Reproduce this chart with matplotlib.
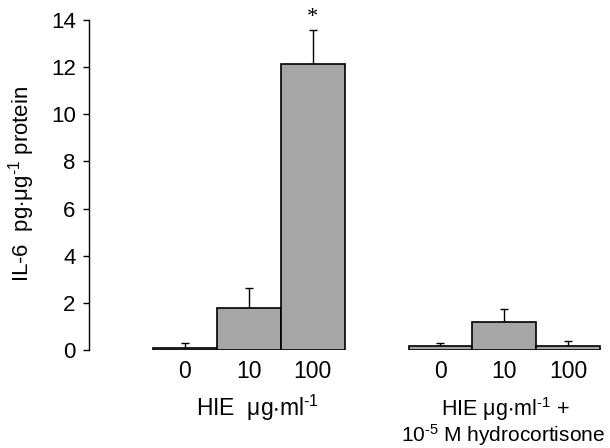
import numpy as np
import matplotlib
matplotlib.use('Agg')
import matplotlib.pyplot as plt

plt.rcParams['font.family'] = ['Liberation Sans', 'DejaVu Sans']
plt.rcParams['mathtext.fontset'] = 'custom'
plt.rcParams['mathtext.rm'] = 'Liberation Sans'

# ── Data ─────────────────────────────────────────────────────────────────────
doses   = ['0', '10', '100']
hie     = [0.10, 1.77, 12.12]     # IL-6, HIE alone
hie_err = [0.18, 0.87, 1.45]
hc      = [0.16, 1.17, 0.17]      # IL-6, HIE + hydrocortisone
hc_err  = [0.15, 0.57, 0.23]

pos1 = np.arange(3)
pos2 = np.arange(3) + 4

HY = '\u00ad'  # short hyphen for superscripts (mathtext turns '-' into a minus)

# ── Figure ───────────────────────────────────────────────────────────────────
fig = plt.figure(figsize=(6.1, 4.48), dpi=100)
ax = fig.add_axes([89.3/610, 98/448, 1 - 89.3/610, 330/448])

bar_kw = dict(width=1.0, color='#a6a6a6', edgecolor='black', linewidth=1.2, zorder=2)
ax.bar(pos1, hie, **bar_kw)
ax.bar(pos2, hc, **bar_kw)
err_kw = dict(fmt='none', ecolor='black', elinewidth=1.0, capsize=2.7, capthick=1.0, zorder=1)
ax.errorbar(pos1, hie, yerr=[np.zeros(3), hie_err], **err_kw)
ax.errorbar(pos2, hc, yerr=[np.zeros(3), hc_err], **err_kw)

ax.text(pos1[2], hie[2] + hie_err[2] + 0.15, '*', ha='center', va='bottom',
        fontsize=16, family='Liberation Serif', clip_on=False)

ax.set_xlim(-1.49, 6.65)
ax.set_ylim(0, 14)
ax.set_yticks(range(0, 15, 2))
ax.tick_params(axis='y', direction='out', length=4.3, width=1, labelsize=16, pad=5.5)
ax.set_xticks(np.concatenate([pos1, pos2]))
ax.set_xticklabels(doses + doses, fontsize=16.5)
ax.tick_params(axis='x', length=0, pad=7)
for s in ['top', 'right', 'bottom']:
    ax.spines[s].set_visible(False)
ax.spines['left'].set_linewidth(1)
ax.set_facecolor('none')

fig.text(22/610, 1 - 184/448,
         r'IL-6  pg$\cdot\mathregular{\mu g^{' + HY + r'1}}$ protein',
         rotation=90, ha='center', va='center', fontsize=16)

def yfrac(ypix):
    return (350 - ypix) / 330

tr = ax.get_xaxis_transform()
ax.text(pos1[1] + 0.14, yfrac(408), r'HIE  $\mathregular{\mu g{\cdot}ml^{' + HY + r'1}}$',
        transform=tr, ha='center', va='center', fontsize=16.5)
ax.text(pos2[1] + 0.02, yfrac(409), r'HIE $\mathregular{\mu g{\cdot}ml^{' + HY + r'1}}$ +',
        transform=tr, ha='center', va='center', fontsize=15.5)
ax.text(pos2[1] - 0.02, yfrac(435), r'$\mathregular{10^{' + HY + r'5}}$ M hydrocortisone',
        transform=tr, ha='center', va='center', fontsize=15)

fig.savefig('out.png', dpi=100)
